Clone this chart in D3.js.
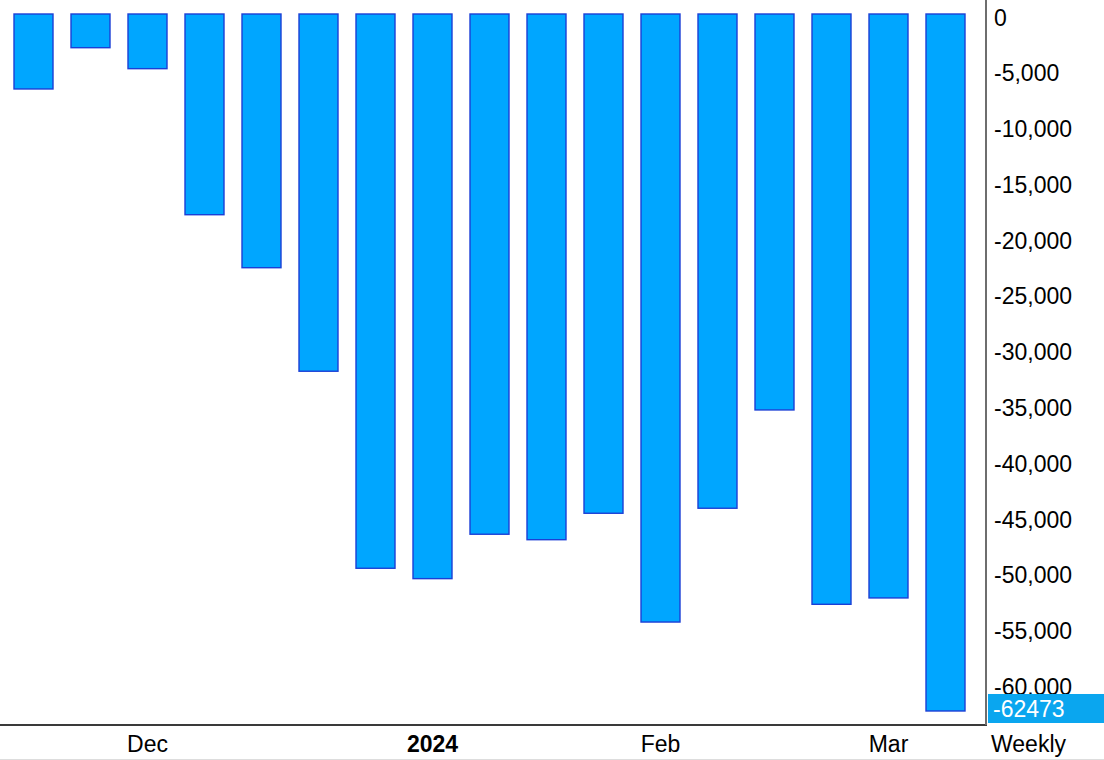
<!DOCTYPE html>
<html>
<head>
<meta charset="utf-8">
<script src="https://cdn.jsdelivr.net/npm/d3@7/dist/d3.min.js"></script>
<style>
  html, body { margin: 0; padding: 0; background: #ffffff; }
  svg { display: block; }
  text { font-family: "Liberation Sans", Arial, sans-serif; }
</style>
</head>
<body>
<svg id="chart" width="1104" height="760"></svg>
<script>
// ---- Data ----
const weeks = ["2023-11-17","2023-11-24","2023-12-01","2023-12-08","2023-12-15","2023-12-22","2023-12-29",
               "2024-01-05","2024-01-12","2024-01-19","2024-01-26","2024-02-02","2024-02-09","2024-02-16",
               "2024-02-23","2024-03-01","2024-03-08"];
const values = [-6720, -3020, -4900, -17990, -22740, -32020, -49680, -50610, -46630, -47120,
                -44750, -54500, -44300, -35490, -52910, -52340, -62473];
const yTicks = [0, -5000, -10000, -15000, -20000, -25000, -30000, -35000, -40000, -45000, -50000, -55000, -60000];
const xTickWeeks = ["2023-12-01", "2024-01-05", "2024-02-02", "2024-03-01"];
const xTickLabels = ["Dec", "2024", "Feb", "Mar"];
const periodLabel = "Weekly";
const lastValueLabel = "-62473";

// ---- Layout ----
const svg = d3.select("#chart");
const plotRight = 986, plotBottom = 725;

const x = d3.scaleBand().domain(weeks).range([0, 979])
  .paddingInner(18 / 57).paddingOuter(14 / 57);
const y = d3.scaleLinear().domain([-60000, 0]).range([683.4, 14]);

const fmt = d3.formatLocale({decimal: ".", thousands: ",", grouping: [3], currency: ["$", ""], minus: "-"}).format(",");

// bars
svg.append("g").selectAll("rect").data(weeks).join("rect")
  .attr("x", d => x(d))
  .attr("y", y(0))
  .attr("width", x.bandwidth())
  .attr("height", (d, i) => y(values[i]) - y(0))
  .attr("fill", "#00a6ff")
  .attr("stroke", "#1b3fd6")
  .attr("stroke-width", 1.4);

// frame
svg.append("line").attr("x1", 0).attr("x2", plotRight + 1).attr("y1", plotBottom).attr("y2", plotBottom)
  .attr("stroke", "#3a3a3a").attr("stroke-width", 2);
svg.append("line").attr("x1", plotRight).attr("x2", plotRight).attr("y1", 0).attr("y2", plotBottom)
  .attr("stroke", "#6e6e6e").attr("stroke-width", 2);
svg.append("line").attr("x1", 0).attr("x2", 1104).attr("y1", 759.5).attr("y2", 759.5)
  .attr("stroke", "#dddddd").attr("stroke-width", 1);

// y axis
const yAxis = svg.append("g").attr("transform", `translate(${plotRight},0)`)
  .call(d3.axisRight(y).tickValues(yTicks).tickFormat(fmt).tickSize(0).tickPadding(8));
yAxis.select(".domain").remove();
yAxis.selectAll("text").attr("dy", null).attr("y", 11).attr("x", 8)
  .attr("fill", "#000").style("font-size", "23px").style("font-family", '"Liberation Sans", Arial, sans-serif');

// x axis
const xAxis = svg.append("g").attr("transform", `translate(0,${plotBottom})`)
  .call(d3.axisBottom(x).tickValues(xTickWeeks).tickFormat((d, i) => xTickLabels[i]).tickSize(0).tickPadding(0));
xAxis.select(".domain").remove();
xAxis.selectAll("text").attr("dy", null).attr("y", 27)
  .attr("fill", "#000").style("font-size", "23px").style("font-family", '"Liberation Sans", Arial, sans-serif')
  .style("font-weight", (d, i) => xTickLabels[i] === "2024" ? "bold" : "normal");

svg.append("text").attr("x", 991).attr("y", 752).text(periodLabel)
  .attr("fill", "#000").style("font-size", "23px");

// last value marker
const lastY = y(values[values.length - 1]);
svg.append("rect").attr("x", 988).attr("y", lastY - 17).attr("width", 116).attr("height", 29)
  .attr("fill", "#0aa6ef");
svg.append("text").attr("x", 993).attr("y", lastY + 6).text(lastValueLabel)
  .attr("fill", "#ffffff").style("font-size", "23px");
</script>
</body>
</html>
